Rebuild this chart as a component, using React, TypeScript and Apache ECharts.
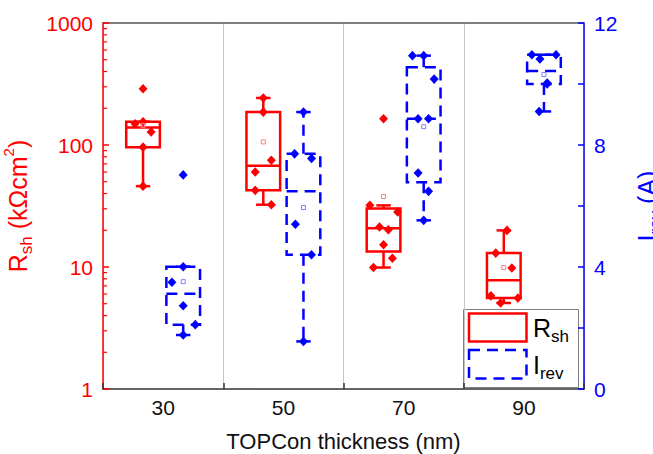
import React, { useEffect, useRef } from 'react';
import * as echarts from 'echarts';

const categories = ['30', '50', '70', '90'];

// Rsh (kΩcm²) measured points per TOPCon thickness
const rsh30 = [289, 155, 149, 128, 96, 46];
const rsh50 = [243, 186, 75, 60, 42.5, 32.4];
const rsh70 = [164, 32, 28.2, 21.3, 20.2, 15.2, 11.8, 9.9];
const rsh90 = [19.95, 13.0, 9.8, 5.8, 5.57, 5.07];

// Irev (A) measured points per TOPCon thickness
const irev30 = [7.02, 4.01, 3.5, 2.73, 2.11, 1.77];
const irev50 = [9.08, 7.71, 7.56, 5.4, 4.4, 1.56];
const irev70 = [10.93, 10.93, 10.16, 8.86, 8.86, 7.08, 6.48, 5.53];
const irev90 = [10.96, 10.82, 10.96, 10.03, 10.0, 9.1];

// Box statistics: [whisker low, Q1, median, Q3, whisker high]
const rshBox = [
  [46, 96, 139, 155, 155],
  [32.4, 42.5, 67.5, 186, 243],
  [9.9, 13.4, 20.75, 30.1, 32],
  [5.07, 5.57, 7.8, 13, 19.95],
];
const irevBox = [
  [1.77, 2.11, 3.12, 4.01, 4.01],
  [1.56, 4.4, 6.48, 7.71, 9.08],
  [5.53, 6.78, 8.86, 10.55, 10.93],
  [9.1, 10.0, 10.43, 10.96, 10.96],
];
const rshMean = [144, 106, 37.8, 9.9];
const irevMean = [3.52, 5.95, 8.6, 10.31];

// Minor tick values of the log axis
const rshMinorTicks = [2, 3, 4, 5, 6, 7, 8, 9, 20, 30, 40, 50, 60, 70, 80, 90, 200, 300, 400, 500, 600, 700, 800, 900];

// Horizontal jitter slots of the points (layout only)
const rshJitter = [
  [0, 0, -1, 1, 0, 0],
  [0, 0, 1, -1, -1, 1],
  [0, -1.7, 1.75, -0.5, 0.6, 0, 1.1, -1.25],
  [0.4, -1, 1, -1.6, 1.75, -0.4],
];
const irevJitter = [
  [0, 0, -1.4, 0, 1.5, 0],
  [0, -1.1, 1, -1, 1, 0],
  [-1.4, 0, 1.3, -0.7, 0.6, -0.7, 0.6, 0],
  [-1.5, -0.5, 1.5, 0.4, 0.4, -0.6],
];

const RED = '#ff0000';
const BLUE = '#0000ff';
const FONT = '"Liberation Sans", Arial, sans-serif';
const DASH = [11, 7];
const RSH_OFF = -0.167;
const IREV_OFF = 0.167;

const rshAll = [rsh30, rsh50, rsh70, rsh90];
const irevAll = [irev30, irev50, irev70, irev90];

function boxRenderer(offsetFrac: number, color: string, dash: number[] | null) {
  return (params: any, api: any) => {
    const i = api.value(0);
    const band = api.size([1, 0])[0];
    const cx = api.coord([i, api.value(3)])[0] + offsetFrac * band;
    const yy = (k: number) => api.coord([i, api.value(k)])[1];
    const yLo = yy(1), yQ1 = yy(2), yMed = yy(3), yQ3 = yy(4), yHi = yy(5);
    const hw = band * 0.14;
    const cw = band * 0.06;
    const st = { stroke: color, fill: 'none', lineWidth: 2.5, lineDash: dash };
    const solid = { stroke: color, fill: 'none', lineWidth: 2.5 };
    return {
      type: 'group',
      children: [
        { type: 'rect', shape: { x: cx - hw, y: yQ3, width: 2 * hw, height: yQ1 - yQ3 }, style: st },
        { type: 'line', shape: { x1: cx - hw, y1: yMed, x2: cx + hw, y2: yMed }, style: st },
        { type: 'line', shape: { x1: cx, y1: yQ3, x2: cx, y2: yHi }, style: st },
        { type: 'line', shape: { x1: cx, y1: yQ1, x2: cx, y2: yLo }, style: st },
        { type: 'line', shape: { x1: cx - cw, y1: yHi, x2: cx + cw, y2: yHi }, style: solid },
        { type: 'line', shape: { x1: cx - cw, y1: yLo, x2: cx + cw, y2: yLo }, style: solid },
      ],
    };
  };
}

function pointRenderer(offsetFrac: number, color: string) {
  return (params: any, api: any) => {
    const i = api.value(0);
    const band = api.size([1, 0])[0];
    const p = api.coord([i, api.value(1)]);
    const cx = p[0] + offsetFrac * band + api.value(2) * band * 0.067;
    const cy = p[1];
    const hx = 4.5, hy = 4.8;
    return {
      type: 'polygon',
      shape: { points: [[cx, cy - hy], [cx + hx, cy], [cx, cy + hy], [cx - hx, cy]] },
      style: { fill: color, stroke: 'none' },
    };
  };
}

function meanRenderer(offsetFrac: number, color: string) {
  return (params: any, api: any) => {
    const i = api.value(0);
    const band = api.size([1, 0])[0];
    const p = api.coord([i, api.value(1)]);
    const cx = p[0] + offsetFrac * band;
    return {
      type: 'rect',
      shape: { x: cx - 2, y: p[1] - 2, width: 4, height: 4 },
      style: { fill: 'none', stroke: color, lineWidth: 1 },
    };
  };
}

function buildOption() {
  const rshPoints: number[][] = [];
  rshAll.forEach((arr, i) => arr.forEach((v, j) => rshPoints.push([i, v, rshJitter[i][j]])));
  const irevPoints: number[][] = [];
  irevAll.forEach((arr, i) => arr.forEach((v, j) => irevPoints.push([i, v, irevJitter[i][j]])));

  return {
    animation: false,
    backgroundColor: '#ffffff',
    textStyle: { fontFamily: FONT },
    grid: { left: 103, right: 69, top: 23, bottom: 65, containLabel: false, outerBoundsMode: 'none' },
    xAxis: [
      {
        type: 'category',
        data: categories,
        position: 'bottom',
        name: 'TOPCon thickness (nm)',
        nameLocation: 'middle',
        nameGap: 41,
        nameTextStyle: { fontSize: 22, color: '#111', fontFamily: FONT },
        axisLine: { show: true, onZero: false, lineStyle: { color: '#333', width: 1.5 } },
        axisTick: { show: true, inside: true, length: 6, lineStyle: { color: '#333', width: 1.5 } },
        axisLabel: { fontSize: 21, color: '#111', margin: 8, fontFamily: FONT },
        splitLine: { show: true, lineStyle: { color: '#c8c8c8', width: 1 } },
      },
      {
        type: 'category',
        data: categories,
        position: 'top',
        axisLine: { show: true, onZero: false, lineStyle: { color: '#555', width: 1.5 } },
        axisTick: { show: false },
        axisLabel: { show: false },
        splitLine: { show: false },
      },
    ],
    yAxis: [
      {
        type: 'log',
        logBase: 10,
        min: 1,
        max: 1000,
        position: 'left',
        name: '{m|R}{s|sh}{m| (kΩcm}{p|2}{m|)}',
        nameLocation: 'middle',
        nameGap: 52,
        nameTextStyle: {
          color: RED,
          fontFamily: FONT,
          rich: {
            m: { fontSize: 25, color: RED, lineHeight: 34, fontFamily: FONT },
            s: { fontSize: 17, color: RED, lineHeight: 17, verticalAlign: 'bottom', fontFamily: FONT },
            p: { fontSize: 15, color: RED, lineHeight: 15, verticalAlign: 'top', fontFamily: FONT },
          },
        },
        axisLine: { show: true, lineStyle: { color: RED, width: 1.5 } },
        axisTick: { show: true, inside: true, length: 6, lineStyle: { color: RED, width: 1.5 } },
        axisLabel: { color: RED, fontSize: 21, margin: 10, fontFamily: FONT, formatter: (v: number) => String(Math.round(v)) },
        splitLine: { show: false },
      },
      {
        type: 'value',
        min: 0,
        max: 12,
        interval: 4,
        position: 'right',
        name: '{m|I}{s|rev}{m| (A)}',
        nameLocation: 'middle',
        nameGap: 46,
        nameTextStyle: {
          color: BLUE,
          fontFamily: FONT,
          rich: {
            m: { fontSize: 25, color: BLUE, lineHeight: 34, fontFamily: FONT },
            s: { fontSize: 17, color: BLUE, lineHeight: 17, verticalAlign: 'bottom', fontFamily: FONT },
          },
        },
        axisLine: { show: true, lineStyle: { color: BLUE, width: 1.5 } },
        axisTick: { show: true, inside: true, length: 6, lineStyle: { color: BLUE, width: 1.5 } },
        minorTick: { show: true, splitNumber: 2, length: 6, lineStyle: { color: BLUE, width: 1.5 } },
        axisLabel: { color: BLUE, fontSize: 21, margin: 10, fontFamily: FONT },
        splitLine: { show: false },
      },
    ],
    graphic: [
      {
        type: 'group',
        z: 100,
        children: [
          { type: 'rect', shape: { x: 463.5, y: 309.5, width: 115, height: 78 }, style: { fill: '#ffffff', stroke: '#808080', lineWidth: 1 } },
          { type: 'rect', shape: { x: 469, y: 313.5, width: 57.5, height: 28 }, style: { fill: 'none', stroke: RED, lineWidth: 2.5 } },
          { type: 'rect', shape: { x: 469, y: 350, width: 57.5, height: 28.5 }, style: { fill: 'none', stroke: BLUE, lineWidth: 2.5, lineDash: DASH } },
          {
            type: 'text',
            x: 533,
            y: 327.5,
            style: {
              text: '{m|R}{s|sh}',
              verticalAlign: 'middle',
              align: 'left',
              rich: {
                m: { fontSize: 25, fill: '#000', lineHeight: 34, fontFamily: FONT },
                s: { fontSize: 17, fill: '#000', lineHeight: 17, verticalAlign: 'bottom', fontFamily: FONT },
              },
            },
          },
          {
            type: 'text',
            x: 533,
            y: 364.5,
            style: {
              text: '{m|I}{s|rev}',
              verticalAlign: 'middle',
              align: 'left',
              rich: {
                m: { fontSize: 25, fill: '#000', lineHeight: 34, fontFamily: FONT },
                s: { fontSize: 17, fill: '#000', lineHeight: 17, verticalAlign: 'bottom', fontFamily: FONT },
              },
            },
          },
        ],
      },
    ],
    series: [
      {
        type: 'custom',
        name: 'minorTicks',
        yAxisIndex: 0,
        silent: true,
        data: rshMinorTicks.map((v) => [0, v]),
        encode: { x: 0, y: 1 },
        renderItem: (params: any, api: any) => {
          const y = api.coord([0, api.value(1)])[1];
          const x0 = params.coordSys.x;
          return { type: 'line', shape: { x1: x0, y1: y, x2: x0 + 4, y2: y }, style: { stroke: RED, lineWidth: 1.2 } };
        },
      },
      {
        type: 'custom',
        name: 'Rsh',
        yAxisIndex: 0,
        data: rshBox.map((b, i) => [i, ...b]),
        encode: { x: 0, y: [1, 2, 3, 4, 5] },
        renderItem: boxRenderer(RSH_OFF, RED, null),
        z: 3,
      },
      {
        type: 'custom',
        name: 'Irev',
        yAxisIndex: 1,
        data: irevBox.map((b, i) => [i, ...b]),
        encode: { x: 0, y: [1, 2, 3, 4, 5] },
        renderItem: boxRenderer(IREV_OFF, BLUE, DASH),
        z: 3,
      },
      {
        type: 'custom',
        name: 'Rsh points',
        yAxisIndex: 0,
        data: rshPoints,
        encode: { x: 0, y: 1 },
        renderItem: pointRenderer(RSH_OFF, RED),
        z: 4,
      },
      {
        type: 'custom',
        name: 'Irev points',
        yAxisIndex: 1,
        data: irevPoints,
        encode: { x: 0, y: 1 },
        renderItem: pointRenderer(IREV_OFF, BLUE),
        z: 4,
      },
      {
        type: 'custom',
        name: 'Rsh mean',
        yAxisIndex: 0,
        data: rshMean.map((v, i) => [i, v]),
        encode: { x: 0, y: 1 },
        renderItem: meanRenderer(RSH_OFF, '#ff7f7f'),
        z: 5,
      },
      {
        type: 'custom',
        name: 'Irev mean',
        yAxisIndex: 1,
        data: irevMean.map((v, i) => [i, v]),
        encode: { x: 0, y: 1 },
        renderItem: meanRenderer(IREV_OFF, '#7f7fff'),
        z: 5,
      },
    ],
  };
}

export default function App() {
  const ref = useRef<HTMLDivElement>(null);
  useEffect(() => {
    if (!ref.current) return;
    const chart = echarts.init(ref.current, null, { renderer: 'svg' });
    chart.setOption(buildOption() as any);
    return () => chart.dispose();
  }, []);
  return (
    <div
      ref={ref}
      style={{ position: 'absolute', left: 0, top: 0, width: 653, height: 454, background: '#ffffff' }}
    />
  );
}
